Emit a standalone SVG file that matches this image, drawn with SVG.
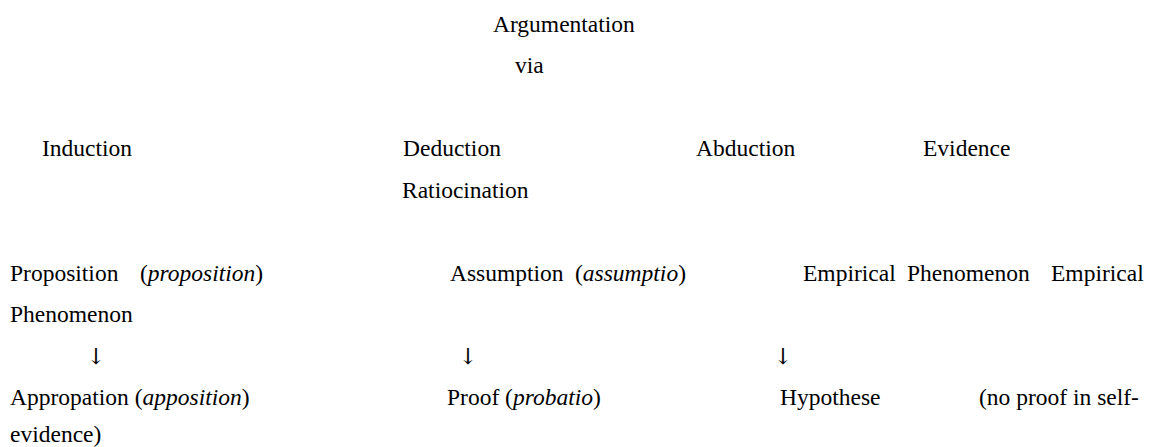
<svg xmlns="http://www.w3.org/2000/svg" width="1152" height="447" viewBox="0 0 1152 447">
<style>
text{font-family:'Liberation Serif','Times New Roman',Times,serif;font-size:23.5px;fill:#000}
.i{font-style:italic}
.arr{font-family:'DejaVu Serif','DejaVu Sans',serif;font-size:22px;text-anchor:middle;fill:#000}
</style>
<rect width="1152" height="447" fill="#fff"/>
<g font-family="Liberation Serif, Times New Roman, serif" font-size="23.5">
<g id="argumentation"><text x="493" y="31.7">Argumentation</text><text x="515" y="73">via</text></g>
<g id="induction"><text x="42" y="156">Induction</text></g>
<g id="deduction"><text x="403" y="156">Deduction</text><text x="402" y="197.5">Ratiocination</text></g>
<g id="abduction"><text x="696" y="156">Abduction</text></g>
<g id="evidence"><text x="923" y="156">Evidence</text></g>
<g id="proposition"><text x="10" y="280.5">Proposition</text><text x="140" y="280.5">(<tspan class="i">proposition</tspan>)</text></g>
<g id="assumption"><text x="450" y="280.5">Assumption</text><text x="575" y="280.5">(<tspan class="i">assumptio</tspan>)</text></g>
<g id="empirical"><text x="803" y="280.5">Empirical</text><text x="907" y="280.5">Phenomenon</text></g>
<g id="empirical-evidence"><text x="1051" y="280.5">Empirical</text><text x="10" y="322">Phenomenon</text></g>
<g id="connectors"><text class="arr" x="96" y="363.5">↓</text><text class="arr" x="468" y="363.5">↓</text><text class="arr" x="783" y="363.5">↓</text></g>
<g id="appropation"><text x="10" y="405">Appropation (<tspan class="i">apposition</tspan>)</text></g>
<g id="proof"><text x="447" y="405">Proof (<tspan class="i">probatio</tspan>)</text></g>
<g id="hypothese"><text x="780" y="405">Hypothese</text></g>
<g id="no-proof"><text x="979" y="405">(no proof in self-</text><text x="10" y="442">evidence)</text></g>
</g>
</svg>
